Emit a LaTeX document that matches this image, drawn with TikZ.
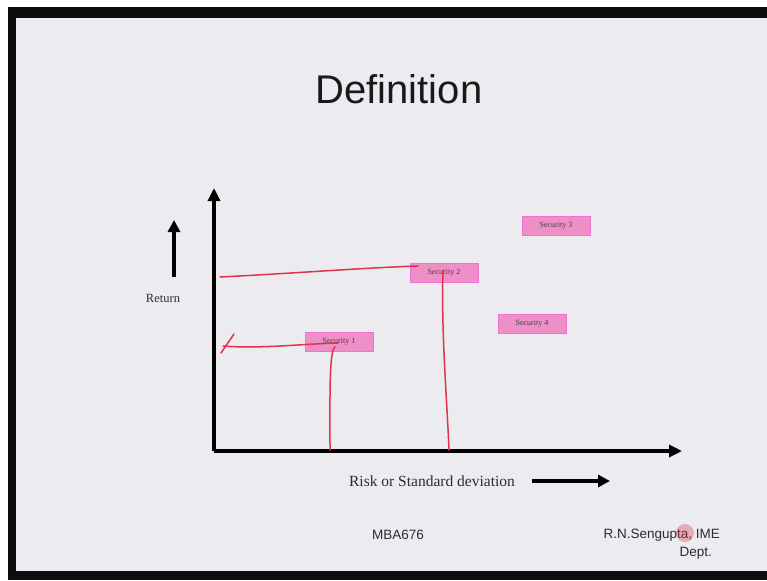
\documentclass[tikz,border=0pt]{standalone}
\usepackage{fontspec}
\setmainfont{Liberation Serif}
\newfontfamily\slidesans{Liberation Sans}
\usetikzlibrary{arrows.meta}
\definecolor{slidebg}{HTML}{ECEBF0}
\definecolor{secpink}{HTML}{EE8FC8}
\definecolor{penred}{HTML}{E0344A}
\definecolor{txtgray}{HTML}{2C2C2C}
\tikzset{
  secbox/.style={fill=secpink, draw=secpink!80!magenta, line width=0.4pt, minimum width=68pt, minimum height=19pt, inner sep=0pt, font=\fontsize{8}{9}\selectfont, text=txtgray!90},
  axisline/.style={line width=3.6pt, -{Triangle[length=13pt,width=12pt]}},
  pen/.style={penred, line width=1.5pt, line cap=round},
  labeltext/.style={text=txtgray, inner sep=0pt}
}
\begin{document}
\begin{tikzpicture}[x=1pt,y=-1pt]
\useasboundingbox (0,0) rectangle (767,580);
\fill[white] (0,0) rectangle (767,580);
\fill[black!95] (8,7) rectangle (767,580);
\fill[slidebg] (16,18) rectangle (767,571);
% title
\node[inner sep=0pt, text=black!90] (title) at (399,89) {\slidesans\fontsize{40}{44}\selectfont Definition};
% axes
\coordinate (O) at (214,451);
\coordinate (ytop) at (214,188);
\coordinate (xend) at (682,451);
\draw[axisline] (O) -- (ytop);
\draw[axisline] (O) -- (xend);
% return arrow
\coordinate (ra1) at (174,277);
\coordinate (ra2) at (174,220);
\draw[line width=3.6pt, -{Triangle[length=12pt,width=12pt]}] (ra1) -- (ra2);
\node[labeltext, font=\fontsize{12.5}{14}\selectfont] (ret) at (163,298) {Return};
% risk label and arrow
\node[labeltext, font=\fontsize{15.5}{17}\selectfont] (risk) at (432,481) {Risk or Standard deviation};
\coordinate (rk1) at (532,481);
\coordinate (rk2) at (610,481);
\draw[line width=3.6pt, -{Triangle[length=12pt,width=12pt]}] (rk1) -- (rk2);
% securities
\node[secbox] (s1) at (339,342) {Security 1};
\node[secbox] (s2) at (444,273) {Security 2};
\node[secbox] (s3) at (556,226) {Security 3};
\node[secbox] (s4) at (532,324) {Security 4};
% hand-drawn red lines
\coordinate (a1) at (220,277);
\coordinate (a2) at (418,266);
\coordinate (b1) at (443,270);
\coordinate (b2) at (449,450);
\draw[pen] (a1) .. controls (300,273) and (360,268) .. (a2);
\draw[pen] (b1) .. controls (441,330) and (447,400) .. (b2);
\coordinate (c1) at (223,346);
\coordinate (c2) at (338,343);
\coordinate (d1) at (335,347);
\coordinate (d2) at (330,450);
\coordinate (t1) at (221,353);
\coordinate (t2) at (234,334);
\draw[pen] (t1) -- (t2);
\draw[pen] (c1) .. controls (260,349) and (300,344) .. (c2);
\draw[pen] (d1) .. controls (329,350) and (330,400) .. (d2);
% footer
\node[labeltext, font=\slidesans\fontsize{13.5}{15}\selectfont] (course) at (398,535) {MBA676};
\node[labeltext, anchor=east, font=\slidesans\fontsize{13.5}{15}\selectfont] (auth) at (720,535) {R.N.Sengupta, IME};
\node[labeltext, anchor=east, font=\slidesans\fontsize{13.5}{15}\selectfont] (dept) at (712,553) {Dept.};
\fill[penred, opacity=0.35] (685,533) circle (9);
\end{tikzpicture}
\end{document}
